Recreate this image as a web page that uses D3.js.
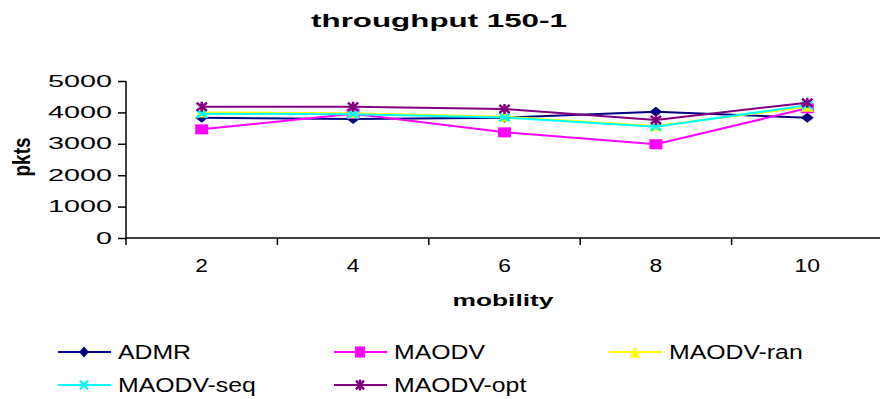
<!DOCTYPE html>
<html><head><meta charset="utf-8">
<script src="https://cdn.jsdelivr.net/npm/d3@7"></script>
<style>body{margin:0;background:#fff;} svg{display:block;font-family:"Liberation Sans",Arial,sans-serif;}</style>
</head><body>
<svg id="c" width="880" height="399"></svg>
<script>
const categories = ["2","4","6","8","10"];
const yTicks = [0,1000,2000,3000,4000,5000];
const seriesNames = ["ADMR","MAODV","MAODV-ran","MAODV-seq","MAODV-opt"];
const admr = [3830, 3790, 3830, 4020, 3830];
const maodv = [3460, 3960, 3365, 2985, 4130];
const maodvRan = [4000, 3970, 3860, 3570, 4180];
const maodvSeq = [3960, 3940, 3840, 3540, 4230];
const maodvOpt = [4180, 4180, 4110, 3760, 4310];
const seriesValues = [admr, maodv, maodvRan, maodvSeq, maodvOpt];
const colors = ["#000080","#FF00FF","#FFFF00","#00FFFF","#800080"];
const markers = ["diamond","square","triangle","x","star"];

(function(){
const svg = d3.select("#c");
const pLeft = 126, pRight = 883, pTop = 81, pBottom = 238;
const x = d3.scaleBand().domain(categories).range([pLeft, pRight]);
const y = d3.scaleLinear().domain([0,5000]).range([pBottom, pTop]);

function stretch(sel, f){
  sel.each(function(){
    const L = this.getComputedTextLength();
    this.setAttribute("textLength", L*f);
    this.setAttribute("lengthAdjust","spacingAndGlyphs");
  });
}

stretch(svg.append("text").attr("x",439).attr("y",27).attr("text-anchor","middle")
  .attr("font-weight","bold").attr("font-size",18).text("throughput 150-1"), 1.74);

const yAx = svg.append("g").attr("transform",`translate(${pLeft},0)`)
  .call(d3.axisLeft(y).tickValues(yTicks).tickSize(8).tickPadding(6).tickFormat(d3.format("d")));
yAx.selectAll("text").attr("font-size",16).attr("font-family","Liberation Sans, Arial").attr("fill","#000");
stretch(yAx.selectAll("text"), 1.8);
yAx.selectAll("line").attr("stroke","#000").attr("stroke-width",1.5);
yAx.select(".domain").attr("stroke","#000").attr("stroke-width",1.5).attr("d",`M0,${pTop}V${pBottom}`);

const xAx = svg.append("g").attr("transform",`translate(0,${pBottom})`)
  .call(d3.axisBottom(x).tickSize(0).tickPadding(21));
xAx.selectAll("text").attr("font-size",18).attr("font-family","Liberation Sans, Arial").attr("fill","#000");
stretch(xAx.selectAll("text"), 1.27);
xAx.select(".domain").attr("stroke","#000").attr("stroke-width",1.5).attr("d",`M${pLeft},0H880`);
const bounds = categories.map(c=>x(c));
xAx.selectAll(".sep").data(bounds).enter().append("line").attr("class","sep")
  .attr("x1",d=>d).attr("x2",d=>d).attr("y1",0).attr("y2",7).attr("stroke","#000").attr("stroke-width",1.5);

svg.append("text").attr("transform","translate(30,157) scale(1.25,1) rotate(-90)").attr("text-anchor","middle")
  .attr("font-weight","bold").attr("font-size",19).text("pkts");
stretch(svg.append("text").attr("x",503).attr("y",306).attr("text-anchor","middle")
  .attr("font-weight","bold").attr("font-size",17).text("mobility"), 1.55);

function drawMarker(g, type, cx, cy, color, s){
  const w = s.w, h = s.h;
  if(type==="diamond"){
    g.append("path").attr("d",`M${cx},${cy-h}L${cx+w},${cy}L${cx},${cy+h}L${cx-w},${cy}Z`).attr("fill",color);
  } else if(type==="square"){
    g.append("rect").attr("x",cx-w).attr("y",cy-h).attr("width",2*w).attr("height",2*h).attr("fill",color);
  } else if(type==="triangle"){
    g.append("path").attr("d",`M${cx},${cy-h}L${cx+w},${cy+h}L${cx-w},${cy+h}Z`).attr("fill",color);
  } else if(type==="x"){
    g.append("path").attr("d",`M${cx-w*0.8},${cy-h*0.8}L${cx+w*0.8},${cy+h*0.8}M${cx-w*0.8},${cy+h*0.8}L${cx+w*0.8},${cy-h*0.8}`).attr("stroke",color).attr("stroke-width",2.5);
  } else if(type==="star"){
    g.append("path").attr("d",`M${cx-w*0.8},${cy-h*0.8}L${cx+w*0.8},${cy+h*0.8}M${cx-w*0.8},${cy+h*0.8}L${cx+w*0.8},${cy-h*0.8}M${cx},${cy-h}V${cy+h}`).attr("stroke",color).attr("stroke-width",2.5);
  }
}

const line = d3.line().x((d,i)=>x(categories[i])+x.bandwidth()/2).y(d=>y(d));
seriesValues.forEach((vals,si)=>{
  const g = svg.append("g");
  g.append("path").attr("d",line(vals)).attr("fill","none").attr("stroke",colors[si]).attr("stroke-width",2);
  vals.forEach((v,i)=>drawMarker(g, markers[si], x(categories[i])+x.bandwidth()/2, y(v), colors[si], {w:6.5,h:5}));
});

const legPos = [[58,352],[334,352],[609,352],[58,385],[334,385]];
seriesNames.forEach((n,i)=>{
  const [lx,ly] = legPos[i];
  const g = svg.append("g");
  g.append("line").attr("x1",lx).attr("x2",lx+53).attr("y1",ly).attr("y2",ly).attr("stroke",colors[i]).attr("stroke-width",2);
  drawMarker(g, markers[i], lx+26, ly, colors[i], {w:5,h:5.5});
  stretch(g.append("text").attr("x",lx+60).attr("y",ly+7).attr("font-size",20).text(n), 1.24);
});
})();
</script>
</body></html>
